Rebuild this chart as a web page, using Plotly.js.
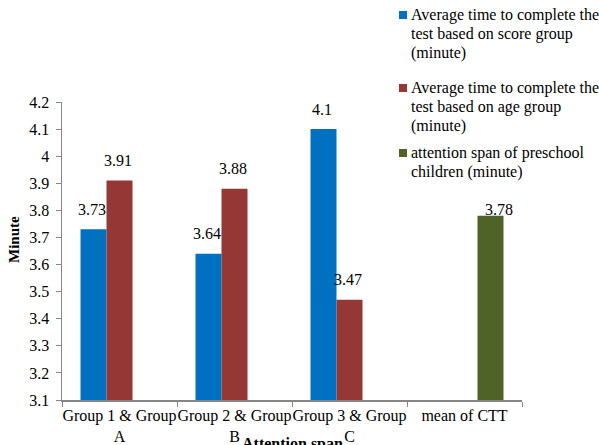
<!DOCTYPE html>
<html>
<head>
<meta charset="utf-8">
<script src="https://cdn.plot.ly/plotly-3.0.1.min.js"></script>
<style>
  html, body { margin: 0; padding: 0; background: #ffffff; }
  #chart { width: 599px; height: 445px; }
</style>
</head>
<body>
<div id="chart"></div>
<script>
// Categories along the x axis
const categories = [
  'Group 1 & Group<br>A',
  'Group 2 & Group<br>B',
  'Group 3 & Group<br>C',
  'mean of CTT'
];

// Series names (one entry per legend line)
const seriesNames = [
  ['Average time to complete the', 'test based on score group', '(minute)'],
  ['Average time to complete the', 'test based on age group', '(minute)'],
  ['attention span of preschool', 'children (minute)']
];

// Series values (minutes)
const scoreGroupTime = [3.73, 3.64, 4.1, null];
const ageGroupTime   = [3.91, 3.88, 3.47, null];
const attentionSpan  = [null, null, null, 3.78];

const seriesValues = [scoreGroupTime, ageGroupTime, attentionSpan];
const seriesColors = ['#0070C0', '#953735', '#4F6228'];

// Y axis ticks
const yTickValues = [3.1, 3.2, 3.3, 3.4, 3.5, 3.6, 3.7, 3.8, 3.9, 4.0, 4.1, 4.2];

const FONT = 'Liberation Serif';
const W = 599, H = 445;
const M = { l: 62, r: 77, t: 102, b: 45 };
const plotW = W - M.l - M.r;
const plotH = H - M.t - M.b;

// pixel -> paper helpers for the hand-placed legend and titles
const px2x = p => (p - M.l) / plotW;
const px2y = p => (H - M.b - p) / plotH;

const traces = seriesValues.map((vals, i) => ({
  type: 'bar',
  x: categories,
  y: vals,
  name: seriesNames[i].join(' '),
  marker: { color: seriesColors[i] },
  hoverinfo: 'x+y',
  showlegend: false
}));

// Value labels placed from the bar values, above each bar
const barOffset = [-26, 0, 26];
const labelShift = [
  { dx: -1.5, dy: 20 },
  { dx: -1.5, dy: 20 },
  { dx: 8, dy: 6 }
];
const annotations = [];
seriesValues.forEach((vals, i) => {
  vals.forEach((v, j) => {
    if (v === null) return;
    annotations.push({
      x: categories[j], y: v, xref: 'x', yref: 'y',
      text: String(v),
      showarrow: false,
      xanchor: 'center', yanchor: 'middle',
      xshift: barOffset[i] + labelShift[i].dx,
      yshift: labelShift[i].dy,
      font: { family: FONT, size: 16, color: '#000000' }
    });
  });
});

// Legend: colour square + series name, one line at a time
const legendTop = [15, 88, 153];
const legendLine = 19;
const shapes = [];
seriesNames.forEach((lines, i) => {
  lines.forEach((line, k) => {
    annotations.push({
      xref: 'paper', yref: 'paper',
      x: px2x(409), y: px2y(legendTop[i] + k * legendLine),
      xanchor: 'left', yanchor: 'middle', align: 'left',
      text: line, showarrow: false,
      font: { family: FONT, size: 16, color: '#000000' }
    });
  });
  shapes.push({
    type: 'rect', xref: 'paper', yref: 'paper',
    x0: px2x(399), x1: px2x(407),
    y0: px2y(legendTop[i] - 4), y1: px2y(legendTop[i] + 4),
    fillcolor: seriesColors[i], line: { width: 0 }
  });
});

// Axis titles
annotations.push({
  xref: 'paper', yref: 'paper', x: 0.5, y: px2y(444),
  xanchor: 'center', yanchor: 'middle',
  text: '<b>Attention span</b>', showarrow: false,
  font: { family: FONT, size: 16, color: '#000000' }
});
annotations.push({
  xref: 'paper', yref: 'paper', x: px2x(14), y: px2y(240),
  xanchor: 'center', yanchor: 'middle', textangle: -90,
  text: '<b>Minute</b>', showarrow: false,
  font: { family: FONT, size: 15, color: '#000000' }
});

const layout = {
  width: W, height: H,
  margin: M,
  paper_bgcolor: '#ffffff',
  plot_bgcolor: '#ffffff',
  barmode: 'group',
  bargap: 0.322,
  bargroupgap: 0,
  showlegend: false,
  font: { family: FONT, size: 16, color: '#000000' },
  xaxis: {
    type: 'category',
    range: [-0.5, 3.5],
    tickson: 'boundaries',
    tickangle: 0,
    ticks: 'outside', ticklen: 5, tickcolor: '#868686', tickwidth: 1,
    showline: true, linecolor: '#868686', linewidth: 1.5,
    showgrid: false, zeroline: false,
    tickfont: { family: FONT, size: 16, color: '#000000' },
    automargin: false
  },
  yaxis: {
    range: [3.1, 4.2],
    tickvals: yTickValues,
    ticks: 'outside', ticklen: 5, tickcolor: '#868686', tickwidth: 1,
    showline: true, linecolor: '#868686', linewidth: 1.5,
    showgrid: false, zeroline: false,
    ticklabelstandoff: 3,
    tickfont: { family: FONT, size: 16, color: '#000000' },
    automargin: false
  },
  annotations: annotations,
  shapes: shapes
};

Plotly.newPlot('chart', traces, layout, { displayModeBar: false, staticPlot: true });
</script>
</body>
</html>
